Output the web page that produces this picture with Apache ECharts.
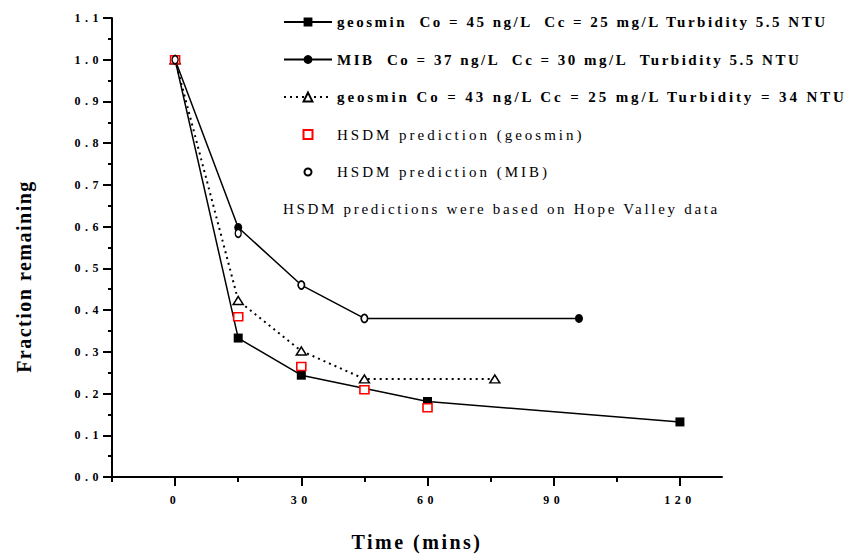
<!DOCTYPE html>
<html><head><meta charset="utf-8">
<script src="https://cdn.jsdelivr.net/npm/echarts@6/dist/echarts.min.js"></script>
<style>
html,body{margin:0;padding:0;background:#fff;}
#c{width:850px;height:557px;}
svg text[fill="#000001"]{letter-spacing:2.5px;}
svg text[fill="#000002"]{letter-spacing:2.9px;}
svg text[fill="#000003"]{letter-spacing:3px;}
svg text[fill="#000004"]{letter-spacing:4.5px;}
svg text[fill="#000005"]{letter-spacing:2.5px;}
svg text[fill="#000006"]{letter-spacing:1.5px;}
svg text[fill="#000007"]{letter-spacing:2.7px;}
</style></head><body><div id="c"></div>
<script>
// ---- data ----
const geoTime   = [0, 15, 30, 60, 120];
const geoVal    = [1.0, 0.333, 0.244, 0.181, 0.132];
const mibTime   = [0, 15, 30, 45, 96];
const mibVal    = [1.0, 0.598, 0.46, 0.38, 0.38];
const turbTime  = [0, 15, 30, 45, 76];
const turbVal   = [1.0, 0.423, 0.302, 0.235, 0.235];
const hsdmGeoTime = [0, 15, 30, 45, 60];
const hsdmGeoVal  = [1.0, 0.384, 0.265, 0.209, 0.166];
const hsdmMibTime = [0, 15, 30, 45];
const hsdmMibVal  = [1.0, 0.584, 0.46, 0.38];
const seriesNames = [
  'geosmin  Co = 45 ng/L  Cc = 25 mg/L Turbidity 5.5 NTU',
  'MIB  Co = 37 ng/L  Cc = 30 mg/L  Turbidity 5.5 NTU',
  'geosmin Co = 43 ng/L Cc = 25 mg/L Turbidity = 34 NTU',
  'HSDM prediction (geosmin)',
  'HSDM prediction (MIB)'
];
const noteText = 'HSDM predictions were based on Hope Valley data';
const xLabelValues = [0, 30, 60, 90, 120];
const xMinorTickValues = [-15, 15, 45, 75, 105];
const xAxisName = 'Time (mins)';
const yAxisName = 'Fraction remaining';

const pairs = (t, v) => t.map((x, i) => [x, v[i]]);
const serif = 'Liberation Serif';
const squareIcon = 'path://M0,0M11,11M1,1H10V10H1Z';
const circleIcon = 'path://M0,0M11,11M2,5.5A3.5,3.5,0,1,1,9,5.5A3.5,3.5,0,1,1,2,5.5Z';

const chart = echarts.init(document.getElementById('c'), null, {renderer: 'svg'});
chart.setOption({
  animation: false,
  backgroundColor: '#ffffff',
  grid: {left: 112, right: 128, top: 18, bottom: 75, containLabel: false},
  xAxis: [{
    type: 'value', min: -15, max: 130, position: 'bottom',
    axisLine: {show: true, onZero: false, lineStyle: {color: '#000', width: 2}},
    axisTick: {show: true, customValues: xMinorTickValues, length: 5, lineStyle: {color: '#000', width: 2}},
    axisLabel: {show: true, customValues: xLabelValues, margin: 17, color: '#000004',
      fontFamily: serif, fontWeight: 'bold', fontSize: 12},
    splitLine: {show: false},
    name: xAxisName, nameLocation: 'middle', nameGap: 55,
    nameTextStyle: {fontFamily: serif, fontWeight: 'bold', fontSize: 20, color: '#000005'}
  }, {
    type: 'value', min: -15, max: 130, position: 'bottom',
    axisLine: {show: false},
    axisTick: {show: true, customValues: xLabelValues, length: 9, lineStyle: {color: '#000', width: 2}},
    axisLabel: {show: false},
    splitLine: {show: false}
  }],
  yAxis: {
    type: 'value', min: 0, max: 1.1, interval: 0.1,
    axisLine: {show: true, onZero: false, lineStyle: {color: '#000', width: 2}},
    axisTick: {show: true, length: 9, lineStyle: {color: '#000', width: 2}},
    minorTick: {show: true, splitNumber: 2, length: 4, lineStyle: {color: '#000', width: 2}},
    axisLabel: {margin: 9, color: '#000004', fontFamily: serif, fontWeight: 'bold', fontSize: 12,
      formatter: v => v.toFixed(1)},
    splitLine: {show: false},
    name: yAxisName, nameLocation: 'middle', nameGap: 78,
    nameTextStyle: {fontFamily: serif, fontWeight: 'bold', fontSize: 20, color: '#000006', padding: [0, 58, 0, 0]}
  },
  legend: {
    orient: 'vertical', left: 283, top: 14, padding: 0,
    itemWidth: 48, itemHeight: 11, itemGap: 21.5,
    textStyle: {fontFamily: serif, fontSize: 15, fontWeight: 'bold', color: '#000001', lineHeight: 16},
    data: [
      {name: seriesNames[0]},
      {name: seriesNames[1]},
      {name: seriesNames[2], textStyle: {color: '#000002'}},
      {name: seriesNames[3], icon: squareIcon, textStyle: {fontWeight: 'normal', color: '#000003'}},
      {name: seriesNames[4], icon: circleIcon, textStyle: {fontWeight: 'normal', color: '#000003'}}
    ]
  },
  graphic: [{
    type: 'text', left: 283, top: 201,
    style: {text: noteText, fontFamily: serif, fontSize: 15, fill: '#000007'}
  }],
  series: [
    {name: seriesNames[0], type: 'line', data: pairs(geoTime, geoVal),
      symbol: 'rect', symbolSize: 9, z: 2,
      lineStyle: {color: '#000', width: 1.5}, itemStyle: {color: '#000'}},
    {name: seriesNames[1], type: 'line', data: pairs(mibTime, mibVal),
      symbol: 'circle', symbolSize: [8, 9], z: 2,
      lineStyle: {color: '#000', width: 1.5}, itemStyle: {color: '#000'}},
    {name: seriesNames[2], type: 'line', data: pairs(turbTime, turbVal),
      symbol: 'triangle', symbolSize: [10, 8], z: 3,
      lineStyle: {color: '#000', width: 2, type: [2, 4]},
      itemStyle: {color: '#fff', borderColor: '#000', borderWidth: 1.5}},
    {name: seriesNames[3], type: 'scatter', data: pairs(hsdmGeoTime, hsdmGeoVal),
      symbol: 'rect', symbolSize: [9, 8], z: 4,
      itemStyle: {color: '#fff', borderColor: '#ff0000', borderWidth: 1.5, opacity: 1}},
    {name: seriesNames[4], type: 'scatter', data: pairs(hsdmMibTime, hsdmMibVal),
      symbol: 'circle', symbolSize: [6, 8], z: 5,
      itemStyle: {color: '#fff', borderColor: '#000', borderWidth: 1.5, opacity: 1}}
  ]
});
</script></body></html>
